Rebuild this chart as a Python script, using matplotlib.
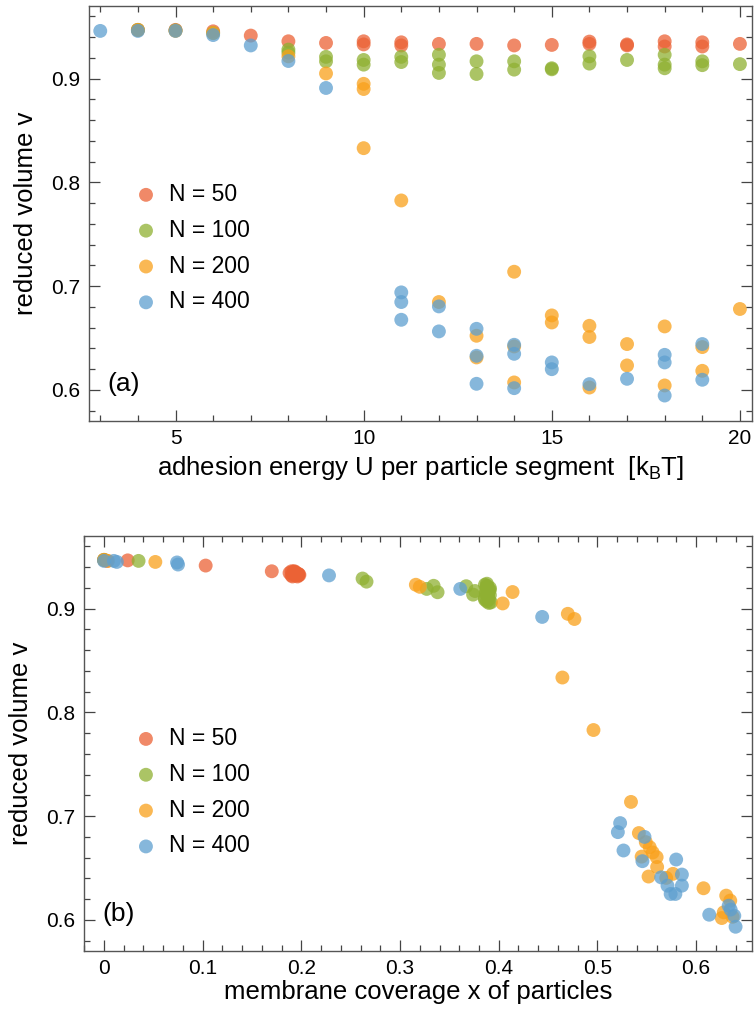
import matplotlib.pyplot as plt
from matplotlib.ticker import MultipleLocator

plt.rcParams['font.family'] = ['Liberation Sans', 'DejaVu Sans']
plt.rcParams['mathtext.fontset'] = 'custom'
plt.rcParams['mathtext.rm'] = 'Liberation Sans'
plt.rcParams['mathtext.it'] = 'Liberation Sans:italic'

labels = ['N = 50', 'N = 100', 'N = 200', 'N = 400']
colors = ['#EB6235', '#8FB032', '#F9A11B', '#5E9FCF']

# (a) reduced volume vs adhesion energy
u_50 = [4, 5, 6, 7, 8, 9, 10, 10, 11, 11, 12, 13, 14, 15, 16, 16, 17, 17, 18, 18, 19, 19, 20]
v_50 = [0.947, 0.947, 0.9456, 0.9415, 0.936, 0.9344, 0.936, 0.933, 0.935, 0.932, 0.9335, 0.9335,
        0.932, 0.9325, 0.9357, 0.9335, 0.932, 0.933, 0.936, 0.931, 0.935, 0.931, 0.9335]
u_100 = [4, 5, 6, 8, 8, 9, 9, 10, 10, 11, 11, 12, 12, 12, 13, 13, 14, 14, 15, 15, 16, 16, 17,
         18, 18, 18, 19, 19, 20]
v_100 = [0.947, 0.9465, 0.944, 0.928, 0.925, 0.921, 0.9167, 0.918, 0.9135, 0.921, 0.916, 0.923,
         0.9135, 0.9055, 0.9167, 0.9045, 0.9167, 0.9087, 0.910, 0.909, 0.9215, 0.9145, 0.918,
         0.923, 0.9135, 0.910, 0.9167, 0.913, 0.914]
u_200 = [4, 5, 6, 8, 9, 10, 10, 10, 11, 12, 13, 13, 14, 14, 14, 15, 15, 16, 16, 16, 17, 17, 18,
         18, 19, 19, 20]
v_200 = [0.947, 0.946, 0.944, 0.9215, 0.905, 0.895, 0.890, 0.833, 0.7826, 0.6847, 0.6522, 0.6313,
         0.7139, 0.6419, 0.6072, 0.6718, 0.665, 0.6618, 0.651, 0.6023, 0.6442, 0.6236, 0.6612,
         0.6043, 0.6413, 0.6184, 0.678]
u_400 = [3, 4, 5, 6, 7, 8, 9, 11, 11, 11, 12, 12, 13, 13, 13, 14, 14, 14, 15, 15, 16, 17, 18,
         18, 18, 19, 19]
v_400 = [0.946, 0.946, 0.946, 0.942, 0.932, 0.917, 0.891, 0.694, 0.6847, 0.6676, 0.6805, 0.6564,
         0.6589, 0.6329, 0.6059, 0.6435, 0.6348, 0.6017, 0.6265, 0.620, 0.6056, 0.6107, 0.6338,
         0.6265, 0.5946, 0.6442, 0.6098]

# (b) reduced volume vs membrane coverage
x_50 = [0.0, 0.003, 0.024, 0.103, 0.170, 0.188, 0.190, 0.192, 0.193, 0.194, 0.195, 0.196, 0.197,
        0.198, 0.192, 0.195, 0.190, 0.197, 0.193, 0.196, 0.194, 0.191, 0.197]
w_50 = [0.947, 0.946, 0.9465, 0.9415, 0.936, 0.9344, 0.936, 0.933, 0.935, 0.932, 0.9335, 0.9335,
        0.932, 0.9325, 0.9357, 0.9335, 0.932, 0.933, 0.936, 0.931, 0.935, 0.931, 0.9335]
x_100 = [0.0, 0.035, 0.262, 0.266, 0.327, 0.334, 0.338, 0.367, 0.374, 0.376, 0.386, 0.388, 0.390,
         0.387, 0.389, 0.391, 0.386, 0.390, 0.388, 0.392, 0.389, 0.387, 0.391, 0.388, 0.390,
         0.386, 0.389, 0.391, 0.388]
w_100 = [0.947, 0.946, 0.929, 0.926, 0.919, 0.922, 0.9158, 0.9216, 0.9135, 0.917, 0.923, 0.921,
         0.918, 0.916, 0.9135, 0.913, 0.910, 0.909, 0.907, 0.906, 0.917, 0.9145, 0.920, 0.922,
         0.9055, 0.9087, 0.913, 0.918, 0.924]
x_200 = [0.0, 0.004, 0.052, 0.316, 0.320, 0.404, 0.414, 0.470, 0.4767, 0.4645, 0.496, 0.534,
         0.542, 0.549, 0.553, 0.556, 0.560, 0.5448, 0.5605, 0.5518, 0.5697, 0.5765, 0.6075,
         0.6305, 0.6346, 0.628, 0.626, 0.637]
w_200 = [0.947, 0.946, 0.945, 0.923, 0.921, 0.905, 0.916, 0.895, 0.890, 0.8336, 0.783, 0.7137,
         0.6837, 0.675, 0.670, 0.665, 0.6605, 0.661, 0.651, 0.6418, 0.6405, 0.6444, 0.6305,
         0.6234, 0.6186, 0.6073, 0.6018, 0.603]
x_400 = [0.0, 0.010, 0.013, 0.074, 0.075, 0.228, 0.361, 0.444, 0.523, 0.5207, 0.5264, 0.5477,
         0.5456, 0.5798, 0.5646, 0.5856, 0.571, 0.5856, 0.5742, 0.579, 0.633, 0.6133, 0.6387,
         0.640, 0.635]
w_400 = [0.946, 0.946, 0.945, 0.9445, 0.9425, 0.932, 0.919, 0.892, 0.6933, 0.6846, 0.6669, 0.680,
         0.6566, 0.6582, 0.641, 0.6437, 0.633, 0.633, 0.625, 0.625, 0.6137, 0.605, 0.604, 0.5934,
         0.610]

top_x = [u_50, u_100, u_200, u_400]
top_y = [v_50, v_100, v_200, v_400]
bot_x = [x_50, x_100, x_200, x_400]
bot_y = [w_50, w_100, w_200, w_400]


def style_axes(ax, xmajor, xminor):
    ax.set_ylim(0.57, 0.97)
    ax.xaxis.set_major_locator(MultipleLocator(xmajor))
    ax.xaxis.set_minor_locator(MultipleLocator(xminor))
    ax.yaxis.set_major_locator(MultipleLocator(0.1))
    ax.yaxis.set_minor_locator(MultipleLocator(0.02))
    ax.tick_params(which='both', direction='in', top=True, right=True, color='#444444',
                   width=0.9, labelsize=15, pad=6)
    ax.tick_params(which='major', length=8)
    ax.tick_params(which='minor', length=4.5)
    for sp in ax.spines.values():
        sp.set_color('#555555')
        sp.set_linewidth(1.0)


def draw_panel(ax, xs, ys, tag, leg_anchor):
    for x, y, c, lab in zip(xs, ys, colors, labels):
        ax.scatter(x, y, s=100, color=c, alpha=0.75, edgecolors='none', label=lab)
    ax.set_ylabel('reduced volume v', fontsize=18.5, labelpad=10)
    leg = ax.legend(loc='upper left', bbox_to_anchor=leg_anchor, frameon=False, fontsize=16.5,
                    handletextpad=0.3, labelspacing=0.56, borderaxespad=0, handlelength=1.4)
    for h in leg.legend_handles:
        h.set_alpha(0.75)
    ax.text(0.028, 0.09, tag, transform=ax.transAxes, fontsize=19, va='center')


fig = plt.figure(figsize=(7.54, 10.19), dpi=100)
ax1 = fig.add_axes([0.118, 0.5868, 0.8793, 0.4073])
ax2 = fig.add_axes([0.1114, 0.0667, 0.8859, 0.4073])

draw_panel(ax1, top_x, top_y, '(a)', (0.048, 0.596))
style_axes(ax1, 5, 1)
ax1.set_xlim(2.70, 20.32)
ax1.set_xlabel(r'adhesion energy U per particle segment  [k$_{\mathrm{B}}$T]', fontsize=18.5, labelpad=4)

draw_panel(ax2, bot_x, bot_y, '(b)', (0.055, 0.562))
style_axes(ax2, 0.1, 0.02)
ax2.set_xlim(-0.0203, 0.6566)
ax2.set_xticks([0, 0.1, 0.2, 0.3, 0.4, 0.5, 0.6])
ax2.set_xticklabels(['0', '0.1', '0.2', '0.3', '0.4', '0.5', '0.6'])
ax2.set_xlabel('membrane coverage x of particles', fontsize=18.5, labelpad=1)

plt.savefig('out.png', dpi=100)
plt.close()
